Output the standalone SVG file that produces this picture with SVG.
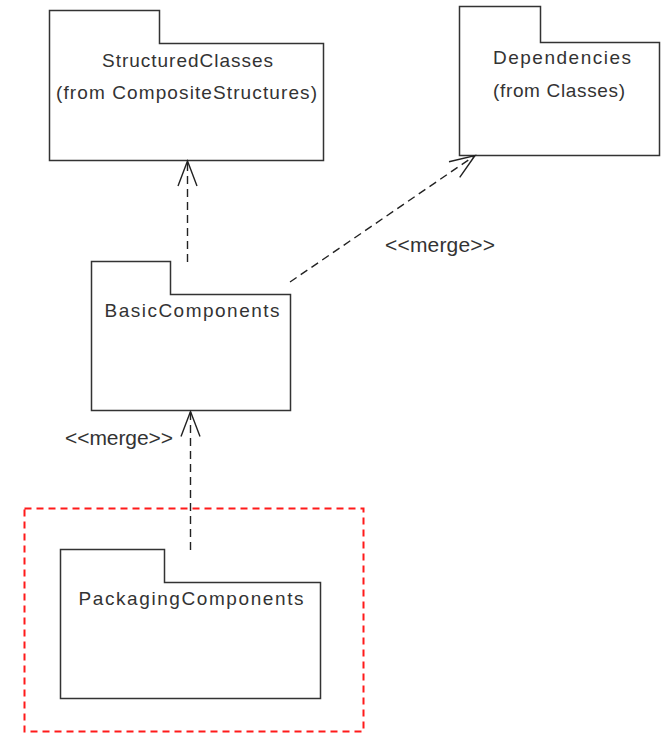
<svg xmlns="http://www.w3.org/2000/svg" width="661" height="733" viewBox="0 0 661 733">
  <style>
    .pkg { fill: #ffffff; stroke: #333333; stroke-width: 1.5; }
    .name { font-family: "Liberation Sans", Arial, sans-serif; font-size: 19px; fill: #333333; }
    .stereo { font-family: "Liberation Sans", Arial, sans-serif; font-size: 21px; fill: #333333; }
    .dep { fill: none; stroke: #222222; stroke-width: 1.4; stroke-dasharray: 8 5; }
    .frame { fill: none; stroke: #ff1a1a; stroke-width: 2; stroke-dasharray: 7 5; }
  </style>
  <defs>
    <marker id="openArrow" markerUnits="userSpaceOnUse" markerWidth="30" markerHeight="24" viewBox="-28 -12 30 24" refX="0" refY="0" orient="auto">
      <path d="M-25,-9.5 L0,0 L-25,9.5" fill="none" stroke="#222222" stroke-width="1.4"/>
    </marker>
  </defs>

  <rect width="661" height="733" fill="#ffffff"/>

  <!-- highlight frame around PackagingComponents -->
  <rect class="frame" x="24.5" y="508.5" width="339" height="223"/>

  <g id="StructuredClasses">
    <path class="pkg" d="M49.5,43.5 V10.5 H159.5 V43.5 H323.5 V160.5 H49.5 Z"/>
    <text class="name" x="102" y="66.5" textLength="171" lengthAdjust="spacing">StructuredClasses</text>
    <text class="name" x="56" y="99" textLength="261" lengthAdjust="spacing">(from CompositeStructures)</text>
  </g>

  <g id="Dependencies">
    <path class="pkg" d="M459.5,42.5 V6.5 H540.5 V42.5 H659.5 V155.5 H459.5 Z"/>
    <text class="name" x="493" y="63.5" textLength="138" lengthAdjust="spacing">Dependencies</text>
    <text class="name" x="493" y="96.5" textLength="132" lengthAdjust="spacing">(from Classes)</text>
  </g>

  <g id="BasicComponents">
    <path class="pkg" d="M91.5,294.5 V261.5 H170.5 V294.5 H290.5 V410.5 H91.5 Z"/>
    <text class="name" x="104.5" y="316.5" textLength="175" lengthAdjust="spacing">BasicComponents</text>
  </g>

  <g id="PackagingComponents">
    <path class="pkg" d="M60.5,582.5 V549.5 H164.5 V582.5 H320.5 V698.5 H60.5 Z"/>
    <text class="name" x="78.5" y="605" textLength="225" lengthAdjust="spacing">PackagingComponents</text>
  </g>

  <g id="connectors">
    <path class="dep" d="M187.5,262 L187.5,161" marker-end="url(#openArrow)"/>
    <path class="dep" d="M290,282 L475,155.5" marker-end="url(#openArrow)"/>
    <path class="dep" d="M190.5,550 L190.5,411.5" marker-end="url(#openArrow)"/>
    <text class="stereo" x="385" y="252" textLength="110" lengthAdjust="spacing">&lt;&lt;merge&gt;&gt;</text>
    <text class="stereo" x="65" y="444.5" textLength="108" lengthAdjust="spacing">&lt;&lt;merge&gt;&gt;</text>
  </g>
</svg>
